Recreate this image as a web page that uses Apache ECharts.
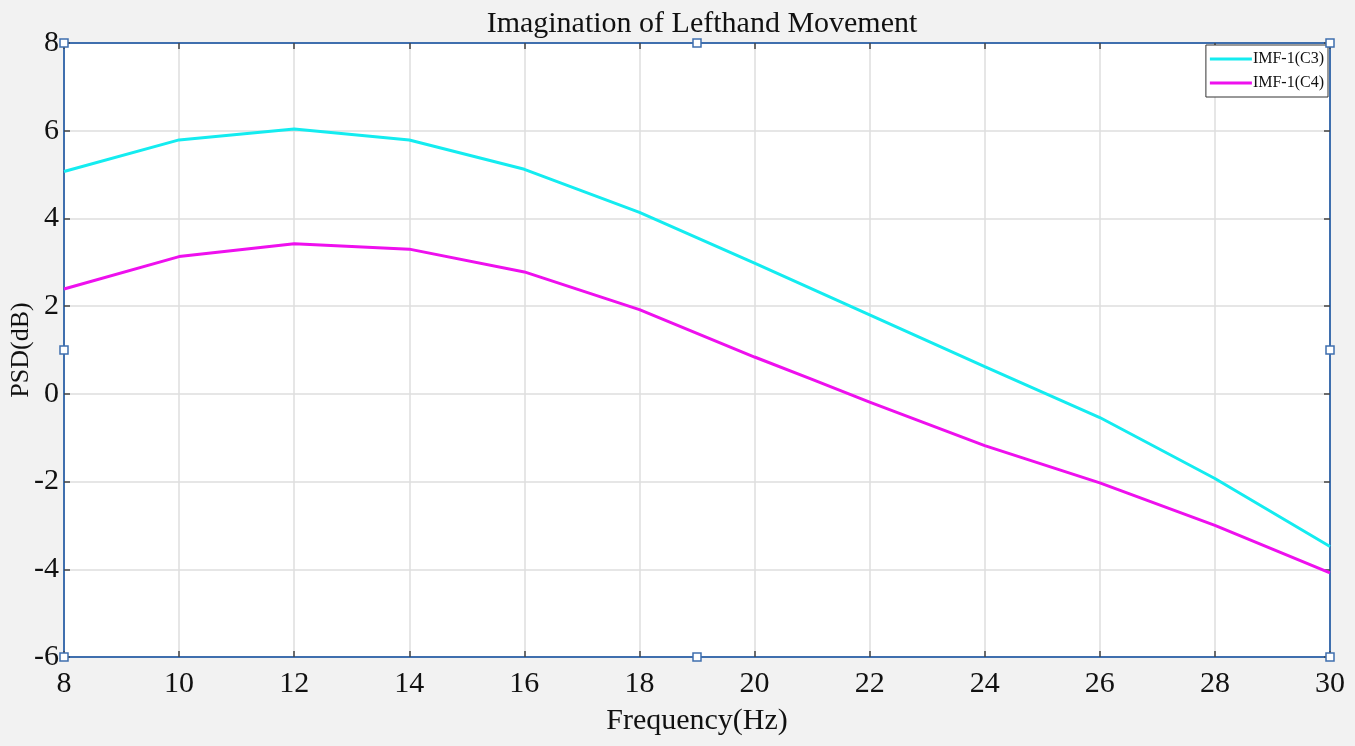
<!DOCTYPE html>
<html>
<head>
<meta charset="utf-8">
<script src="https://cdn.jsdelivr.net/npm/echarts@6/dist/echarts.min.js"></script>
<style>
html,body{margin:0;padding:0;background:#f2f2f2;}
#chart{width:1355px;height:746px;}
</style>
</head>
<body>
<div id="chart"></div>
<script>
const freqC3 = [8, 10, 12, 14, 16, 18, 20, 22, 24, 26, 28, 30];
const psdC3 = [5.07, 5.79, 6.04, 5.79, 5.12, 4.14, 2.98, 1.80, 0.62, -0.54, -1.93, -3.48];
const freqC4 = [8, 10, 12, 14, 16, 18, 20, 21, 22, 24, 26, 28, 30];
const psdC4 = [2.39, 3.13, 3.42, 3.30, 2.78, 1.92, 0.84, 0.33, -0.19, -1.18, -2.03, -3.00, -4.08];
const seriesNames = ['IMF-1(C3)', 'IMF-1(C4)'];
const xTicks = [8, 10, 12, 14, 16, 18, 20, 22, 24, 26, 28, 30];
const yTicks = [-6, -4, -2, 0, 2, 4, 6, 8];

const xMin = xTicks[0], xMax = xTicks[xTicks.length - 1];
const yMin = yTicks[0], yMax = yTicks[yTicks.length - 1];
const xMid = (xMin + xMax) / 2, yMid = (yMin + yMax) / 2;
const handles = [[xMin, yMax], [xMid, yMax], [xMax, yMax], [xMin, yMid], [xMax, yMid], [xMin, yMin], [xMid, yMin], [xMax, yMin]];

const serif = '"Liberation Serif", "Times New Roman", serif';
const frame = '#3f6fae';

const chart = echarts.init(document.getElementById('chart'));
const axisCommon = {
  type: 'value', interval: 2,
  axisLine: { show: true, onZero: false, lineStyle: { color: frame, width: 2 } },
  axisTick: { show: true, inside: true, length: 6, lineStyle: { color: '#444', width: 1.5 } },
  splitLine: { show: false }
};
chart.setOption({
  backgroundColor: '#f2f2f2',
  animation: false,
  title: {
    text: 'Imagination of Lefthand Movement',
    left: 697, top: 4, textAlign: 'center',
    textStyle: { fontFamily: serif, fontSize: 30, fontWeight: 'normal', color: '#111' }
  },
  legend: {
    data: seriesNames,
    orient: 'vertical',
    right: 27, top: 45,
    backgroundColor: '#fff',
    borderColor: '#333', borderWidth: 1,
    padding: [6, 4, 6, 4],
    itemGap: 8,
    icon: 'rect', itemWidth: 42, itemHeight: 3,
    textStyle: { fontFamily: serif, fontSize: 16, color: '#111', padding: [0, 0, 0, -4] }
  },
  grid: {
    left: 64, right: 25, top: 43, bottom: 89,
    outerBoundsMode: 'none', containLabel: false,
    show: true, backgroundColor: '#fff', borderColor: frame, borderWidth: 0
  },
  xAxis: [
    Object.assign({}, axisCommon, {
      min: xMin, max: xMax, position: 'bottom',
      name: 'Frequency(Hz)', nameLocation: 'middle', nameGap: 49, nameMoveOverlap: false,
      nameTextStyle: { fontFamily: serif, fontSize: 30, color: '#111' },
      axisLabel: { fontFamily: serif, fontSize: 30, color: '#111', margin: 12 },
      splitLine: { show: true, lineStyle: { color: '#dedede', width: 1.5 } }
    }),
    Object.assign({}, axisCommon, {
      min: xMin, max: xMax, position: 'top',
      axisLabel: { show: false }
    })
  ],
  yAxis: [
    Object.assign({}, axisCommon, {
      min: yMin, max: yMax, position: 'left',
      name: 'PSD(dB)', nameLocation: 'middle', nameGap: 30, nameMoveOverlap: false,
      nameTextStyle: { fontFamily: serif, fontSize: 26, color: '#111' },
      axisLabel: { fontFamily: serif, fontSize: 30, color: '#111', margin: 5 },
      splitLine: { show: true, lineStyle: { color: '#dedede', width: 1.5 } }
    }),
    Object.assign({}, axisCommon, {
      min: yMin, max: yMax, position: 'right',
      axisLabel: { show: false }
    })
  ],
  series: [
    {
      name: seriesNames[0], type: 'line', symbol: 'none',
      data: freqC3.map((f, i) => [f, psdC3[i]]),
      lineStyle: { color: '#14ecf0', width: 3 }, itemStyle: { color: '#14ecf0' },
      z: 3
    },
    {
      name: seriesNames[1], type: 'line', symbol: 'none',
      data: freqC4.map((f, i) => [f, psdC4[i]]),
      lineStyle: { color: '#ee10ee', width: 3 }, itemStyle: { color: '#ee10ee' },
      z: 3
    },
    {
      name: 'handles', type: 'scatter', symbol: 'rect', symbolSize: 8,
      data: handles, clip: false, silent: true,
      itemStyle: { color: '#fff', borderColor: frame, borderWidth: 1.5, opacity: 1 },
      z: 10
    }
  ]
});
</script>
</body>
</html>
